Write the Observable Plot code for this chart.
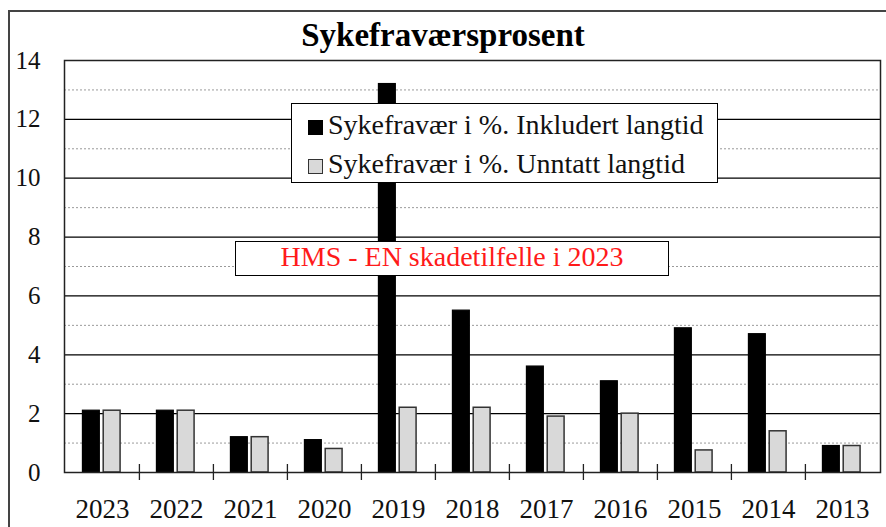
<!DOCTYPE html>
<html>
<head>
<meta charset="utf-8">
<script src="https://cdn.jsdelivr.net/npm/d3@7"></script>
<script src="https://cdn.jsdelivr.net/npm/@observablehq/plot@0.6"></script>
<style>
  html, body { margin: 0; padding: 0; background: #fff; }
  #wrap { position: relative; width: 886px; height: 527px; overflow: hidden; font-family: "Liberation Serif", "Times New Roman", serif; }
  #border { position: absolute; left: 8px; top: 10px; right: -4px; bottom: -4px; border-left: 2px solid #444; border-top: 2px solid #444; }
  #title { position: absolute; left: 0; top: 10px; width: 886px; height: 50px; line-height: 50px; text-align: center; font-weight: bold; font-size: 33px; color: #000; }
  #chart { position: absolute; left: 0; top: 50px; }
  #legend { position: absolute; left: 291px; top: 103px; width: 427px; height: 80px; box-sizing: border-box; border: 1.5px solid #000; background: #fff; }
  .row { position: absolute; left: 16px; height: 34px; line-height: 34px; font-size: 28px; white-space: nowrap; color: #111; }
  .sw { display: inline-block; width: 15px; height: 15px; box-sizing: border-box; margin-right: 5px; vertical-align: -1px; }
  #note { position: absolute; left: 235px; top: 241px; width: 434px; height: 35px; box-sizing: border-box; border: 1.5px solid #000; background: #fff; text-align: center; color: #ff1a1a; font-size: 28px; line-height: 30px; white-space: nowrap; }
</style>
</head>
<body>
<div id="wrap">
  <div id="border"></div>
  <div id="title"></div>
  <div id="chart"></div>
  <div id="legend"></div>
  <div id="note"></div>
</div>
<script>
const title = "Sykefraværsprosent";
const years = ["2023","2022","2021","2020","2019","2018","2017","2016","2015","2014","2013"];
const inkludert = [2.1, 2.1, 1.2, 1.1, 13.2, 5.5, 3.6, 3.1, 4.9, 4.7, 0.9];
const unntatt   = [2.1, 2.1, 1.2, 0.8, 2.2, 2.2, 1.9, 2.0, 0.75, 1.4, 0.9];
const seriesNames = ["Sykefravær i %. Inkludert langtid", "Sykefravær i %. Unntatt langtid"];
const seriesFill = ["#000000", "#d9d9d9"];
const seriesStroke = ["#000000", "#333333"];
const majorTicks = [0, 2, 4, 6, 8, 10, 12, 14];
const minorTicks = [1, 3, 5, 7, 9, 11, 13];
const noteText = "HMS - EN skadetilfelle i 2023";

const data = years.map((y, i) => ({year: y, inkl: inkludert[i], unnt: unntatt[i]}));

const W = 886, H = 477, ML = 64, MR = 6, MT = 10, MB = 55;
const step = (W - ML - MR) / years.length;

document.getElementById("title").textContent = title;

const chart = Plot.plot({
  width: W, height: H,
  marginLeft: ML, marginRight: MR, marginTop: MT, marginBottom: MB,
  style: {fontFamily: "'Liberation Serif', 'Times New Roman', serif", color: "#000", background: "transparent", overflow: "visible"},
  x: {domain: years, padding: 0, label: null},
  y: {domain: [0, 14], label: null},
  marks: [
    Plot.gridY(minorTicks, {stroke: "#9a9a9a", strokeOpacity: 1, strokeDasharray: "2,2", strokeWidth: 1}),
    Plot.gridY(majorTicks, {stroke: "#000", strokeOpacity: 1, strokeWidth: 1.2}),
    Plot.barY(data, {x: "year", y: "inkl", fill: seriesFill[0], stroke: seriesStroke[0], strokeWidth: 1.2,
      insetLeft: step * 0.235, insetRight: step * 0.535}),
    Plot.barY(data, {x: "year", y: "unnt", fill: seriesFill[1], stroke: seriesStroke[1], strokeWidth: 1.5,
      insetLeft: step * 0.515, insetRight: step * 0.255}),
    Plot.frame({stroke: "#222", strokeWidth: 1.5}),
    Plot.axisX({ticks: years.slice(1), tickSize: 16, dy: -8, dx: -step / 2, tickFormat: () => "", label: null, stroke: "#222", strokeWidth: 1.3}),
    Plot.axisX({tickSize: 0, tickPadding: 26, fontSize: 27, fill: "#111", label: null}),
    Plot.axisY(majorTicks, {tickSize: 0, tickPadding: 24, fontSize: 25, fill: "#111", label: null})
  ]
});
document.getElementById("chart").appendChild(chart);

const legend = document.getElementById("legend");
seriesNames.forEach((name, i) => {
  const row = document.createElement("div");
  row.className = "row";
  row.style.top = (4 + i * 39) + "px";
  const sw = document.createElement("span");
  sw.className = "sw";
  sw.style.background = seriesFill[i];
  sw.style.border = "1.5px solid " + seriesStroke[i];
  row.appendChild(sw);
  row.appendChild(document.createTextNode(name));
  legend.appendChild(row);
});
document.getElementById("note").textContent = noteText;
</script>
</body>
</html>
